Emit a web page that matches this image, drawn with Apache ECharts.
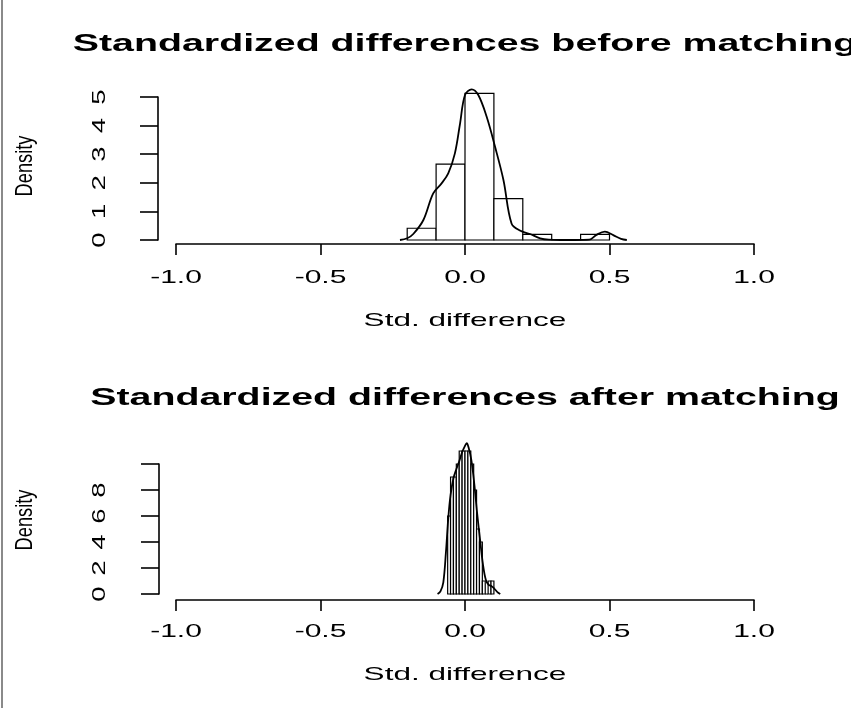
<!DOCTYPE html>
<html>
<head>
<meta charset="utf-8">
<script src="https://cdn.jsdelivr.net/npm/echarts@6/dist/echarts.min.js"></script>
<style>
  html, body { margin: 0; padding: 0; background: #fff; }
  #main { width: 851px; height: 708px; }
</style>
</head>
<body>
<div id="main"></div>
<script>
// Axis ticks and labels
const xTicks = [-1, -0.5, 0, 0.5, 1];
const xTickLabels = ['-1.0', '-0.5', '0.0', '0.5', '1.0'];
const beforeYTicks = [0, 1, 2, 3, 4, 5];
const afterYTicks = [0, 2, 4, 6, 8];
const titles = ['Standardized differences before matching', 'Standardized differences after matching'];
const xName = 'Std. difference';
const yName = 'Density';

// Histogram before matching (bin starts, bin width, density heights)
const beforeBinStart = [-0.2, -0.1, 0.0, 0.1, 0.2, 0.3, 0.4];
const beforeBinWidth = 0.1;
const beforeDensity = [0.41, 2.65, 5.13, 1.45, 0.2, 0, 0.2];

// Kernel density curve before matching
const beforeCurveX = [-0.225, -0.2, -0.179, -0.144, -0.11, -0.081, -0.058, -0.035, -0.017, 0.0, 0.023, 0.046, 0.075, 0.104, 0.133, 0.161, 0.19, 0.225, 0.26, 0.29, 0.33, 0.38, 0.43, 0.455, 0.484, 0.513, 0.54, 0.56];
const beforeCurveY = [0, 0.06, 0.21, 0.7, 1.63, 1.98, 2.33, 3.03, 4.08, 5.07, 5.27, 5.07, 4.31, 3.26, 2.10, 0.58, 0.33, 0.21, 0.06, 0.01, 0, 0, 0.01, 0.18, 0.29, 0.17, 0.04, 0];

// Histogram after matching
const afterBinStart = [-0.06, -0.05, -0.04, -0.03, -0.02, -0.01, 0.0, 0.01, 0.02, 0.03, 0.04, 0.05, 0.06, 0.07, 0.08, 0.09];
const afterBinWidth = 0.01;
const afterDensity = [6, 9, 9, 10, 11, 11, 11, 11, 10, 8, 5, 4, 1, 0, 1, 1];

// Kernel density curve after matching
const afterCurveX = [-0.095, -0.085, -0.075, -0.066, -0.058, -0.05, -0.04, -0.03, -0.02, -0.01, 0.0, 0.006, 0.012, 0.022, 0.032, 0.042, 0.052, 0.062, 0.072, 0.082, 0.092, 0.102, 0.112, 0.122];
const afterCurveY = [0, 0.2, 0.9, 3.2, 5.8, 7.6, 8.9, 9.6, 10.2, 10.9, 11.4, 11.6, 11.3, 10.3, 8.5, 6.2, 4.2, 2.3, 1.1, 0.7, 0.6, 0.4, 0.15, 0];

const FONT = '"Liberation Sans", Arial, Helvetica, sans-serif';

function binRows(starts, width, heights) {
  return starts.map((s, i) => [s, +(s + width).toFixed(6), heights[i]]);
}
function pairs(xs, ys) {
  return xs.map((x, i) => [x, ys[i]]);
}

function renderBar(params, api) {
  const p0 = api.coord([api.value(0), 0]);
  const p1 = api.coord([api.value(1), api.value(2)]);
  return {
    type: 'rect',
    shape: { x: p0[0], y: p1[1], width: p1[0] - p0[0], height: p0[1] - p1[1] },
    style: { fill: '#ffffff', stroke: '#000000', lineWidth: 1.2 }
  };
}

const axisLineStyle = { color: '#000', width: 1.6 };

function xAxisCfg(idx, offset) {
  return {
    type: 'value', gridIndex: idx, min: -1, max: 1, interval: 0.5, offset: offset,
    axisLine: { show: true, onZero: false, lineStyle: axisLineStyle },
    axisTick: { show: true, length: 11, lineStyle: axisLineStyle },
    axisLabel: { show: false },
    splitLine: { show: false }
  };
}
function yAxisCfg(idx, max, interval, offset) {
  return {
    type: 'value', gridIndex: idx, min: 0, max: max, interval: interval, offset: offset,
    axisLine: { show: true, onZero: false, lineStyle: axisLineStyle },
    axisTick: { show: true, length: 18, lineStyle: axisLineStyle },
    axisLabel: { show: false },
    splitLine: { show: false }
  };
}

const chart = echarts.init(document.getElementById('main'), null, { renderer: 'canvas' });

chart.setOption({
  animation: false,
  backgroundColor: '#ffffff',
  grid: [
    { left: 176, width: 578, top: 97, height: 143 },
    { left: 176, width: 578, top: 464, height: 130 }
  ],
  xAxis: [xAxisCfg(0, 4), xAxisCfg(1, 6)],
  yAxis: [yAxisCfg(0, 5, 1, 18), yAxisCfg(1, 10, 2, 17)],
  series: [
    {
      type: 'custom', xAxisIndex: 0, yAxisIndex: 0, clip: false,
      encode: { x: [0, 1], y: 2 },
      data: binRows(beforeBinStart, beforeBinWidth, beforeDensity),
      renderItem: renderBar
    },
    {
      type: 'line', xAxisIndex: 0, yAxisIndex: 0, clip: false,
      data: pairs(beforeCurveX, beforeCurveY),
      smooth: 0.35, showSymbol: false, symbol: 'none', z: 3,
      lineStyle: { color: '#000', width: 1.8 }
    },
    {
      type: 'custom', xAxisIndex: 1, yAxisIndex: 1, clip: false,
      encode: { x: [0, 1], y: 2 },
      data: binRows(afterBinStart, afterBinWidth, afterDensity),
      renderItem: renderBar
    },
    {
      type: 'line', xAxisIndex: 1, yAxisIndex: 1, clip: false,
      data: pairs(afterCurveX, afterCurveY),
      smooth: 0.35, showSymbol: false, symbol: 'none', z: 3,
      lineStyle: { color: '#000', width: 1.8 }
    }
  ]
});

// Text is drawn as graphic elements, positioned through the axes' own scales,
// so the horizontally widened lettering can be reproduced with scaleX.
function txt(x, y, text, size, weight, scale, rotated) {
  return {
    type: 'text', x: x, y: y, silent: true,
    rotation: rotated ? Math.PI / 2 : 0,
    scaleX: scale, scaleY: 1,
    style: {
      text: text, fontSize: size, fontWeight: weight, fontFamily: FONT,
      fill: '#000', align: 'center', verticalAlign: 'middle'
    }
  };
}

const panels = [
  { yTicks: beforeYTicks, titleY: 45, tickY: 278, nameY: 321, densY: 166 },
  { yTicks: afterYTicks, titleY: 399, tickY: 632, nameY: 675, densY: 520 }
];

const graphics = [
  { type: 'rect', silent: true, shape: { x: 1, y: 0, width: 2, height: 708 }, style: { fill: '#8a8a8a' } }
];

panels.forEach((p, i) => {
  const cx = chart.convertToPixel({ xAxisIndex: i }, 0);
  graphics.push(txt(cx, p.titleY, titles[i], 23, 'bold', 1.71, false));
  xTicks.forEach((v, k) => {
    const px = chart.convertToPixel({ xAxisIndex: i }, v);
    graphics.push(txt(px, p.tickY, xTickLabels[k], 19, 'normal', 1.58, false));
  });
  graphics.push(txt(cx, p.nameY, xName, 19, 'normal', 1.66, false));
  p.yTicks.forEach(v => {
    const py = chart.convertToPixel({ yAxisIndex: i }, v);
    graphics.push(txt(100, py, String(v), 19, 'normal', 1.45, true));
  });
  graphics.push(txt(25, p.densY, yName, 24, 'normal', 0.76, true));
});

chart.setOption({ graphic: graphics });
</script>
</body>
</html>
